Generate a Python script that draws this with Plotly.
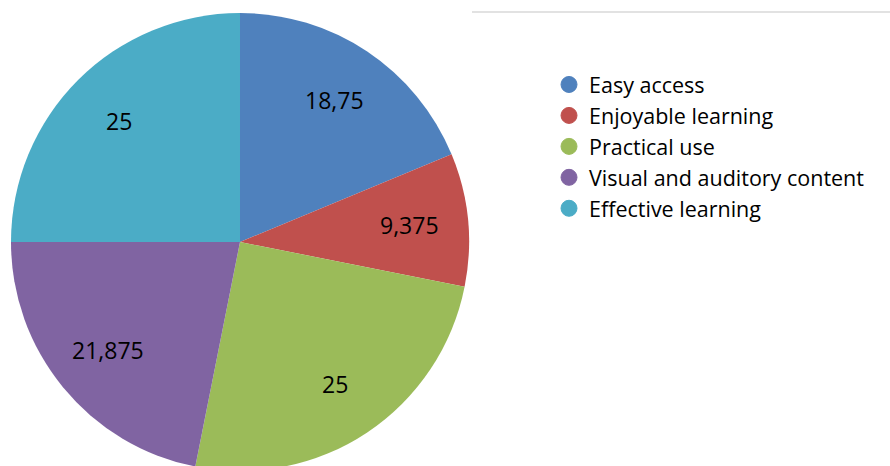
import math
import plotly.graph_objects as go

# Survey responses (%)
categories = ["Easy access", "Enjoyable learning", "Practical use",
              "Visual and auditory content", "Effective learning"]
values = [18.75, 9.375, 25, 21.875, 25]
colors = ["#4F81BD", "#C0504D", "#9BBB59", "#8064A2", "#4BACC6"]

# decimal comma labels
labels_text = [("%g" % v).replace(".", ",") for v in values]

W, H = 890, 484
FONT = "'Open Sans', sans-serif"

# pie placement (paper fractions)
dom_x = [11 / W, 469 / W]
dom_y = [13 / H, 471 / H]

fig = go.Figure()
fig.add_trace(go.Pie(
    labels=categories,
    values=values,
    textinfo="none",
    marker=dict(colors=colors, line=dict(width=0)),
    sort=False,
    direction="clockwise",
    rotation=0,
    showlegend=False,
    hoverinfo="label+value",
    domain=dict(x=dom_x, y=dom_y),
))

# value labels placed along each slice's bisector
cx_px = (dom_x[0] + dom_x[1]) / 2 * W
cy_px = (dom_y[0] + dom_y[1]) / 2 * H
radius_px = (dom_x[1] - dom_x[0]) * W / 2
total = sum(values)
cum = 0.0
annotations = []
for v, t in zip(values, labels_text):
    mid = (cum + v / 2) / total * 2 * math.pi
    cum += v
    rr = 0.745 * radius_px
    px = cx_px + rr * math.sin(mid)
    py = cy_px + rr * math.cos(mid)
    annotations.append(dict(
        x=px / W, y=py / H, xref="paper", yref="paper",
        text=t, showarrow=False, xanchor="center", yanchor="middle",
        font=dict(size=23, color="#000000", family=FONT),
    ))

# legend entries with round markers
for name, c in zip(categories, colors):
    fig.add_trace(go.Scatter(
        x=[None], y=[None], mode="markers", name=name,
        marker=dict(symbol="circle", size=16, color=c,
                    line=dict(color=c, width=1)),
        hoverinfo="skip",
    ))

fig.update_layout(
    width=W, height=H,
    margin=dict(l=0, r=0, t=0, b=0),
    paper_bgcolor="white", plot_bgcolor="white",
    xaxis=dict(visible=False), yaxis=dict(visible=False),
    legend=dict(
        x=549 / W, y=1 - 64 / H, xanchor="left", yanchor="top",
        font=dict(size=21.5, color="#000000", family=FONT),
        tracegroupgap=0,
        bgcolor="rgba(0,0,0,0)",
    ),
    annotations=annotations,
    shapes=[dict(type="line", xref="paper", yref="paper",
                 x0=472 / W, x1=1, y0=1 - 12 / H, y1=1 - 12 / H,
                 line=dict(color="#D9D9D9", width=1.5))],
)

fig.write_html("out.html",
               post_script="document.body.style.margin='0';"
                           "document.body.style.overflow='hidden';"
                           "document.documentElement.style.overflow='hidden';")
